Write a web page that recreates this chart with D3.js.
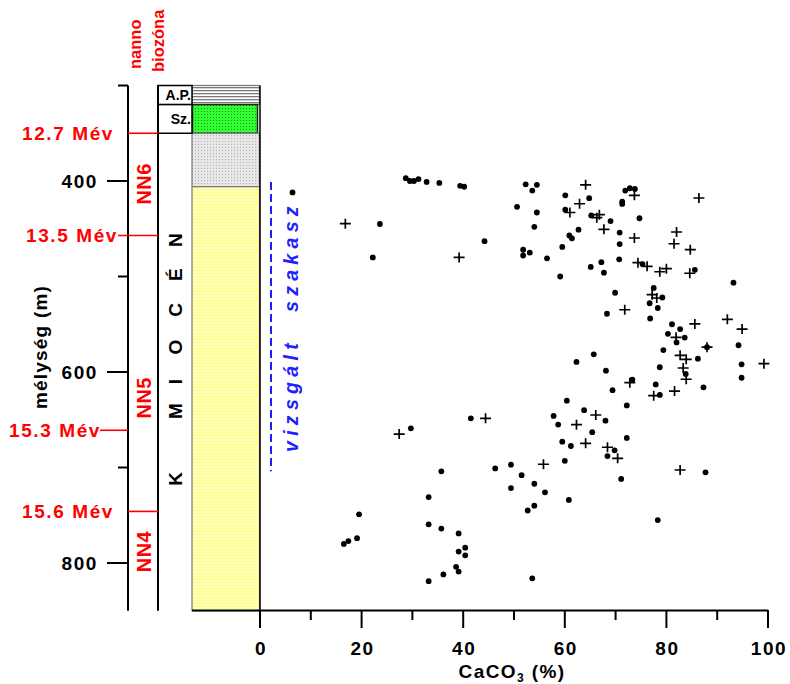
<!DOCTYPE html>
<html><head><meta charset="utf-8">
<script src="https://cdn.jsdelivr.net/npm/d3@7"></script>
<style>body{margin:0;background:#fff}svg{display:block}text{font-family:"Liberation Sans",Arial,sans-serif;font-weight:bold}</style>
</head><body><svg id="c" width="790" height="684"></svg>
<script>
// ---- data ----
const dotCaCO3 = [6.4,28.7,29.5,30.3,31.2,32.8,35.3,39.4,40.2,52.3,54.5,53.6,50.6,60.1,64.8,71.9,72.8,73.8,71.3,71.3,
  23.6,44.2,51.8,51.8,53.1,22.2,54.5,60.1,65.2,69,74.7,54,62.7,60.9,61.4,70.8,70.8,59.5,56.5,67.2,
  65.1,67.7,70.7,75.3,85.6,59.1,93.2,69.9,77.5,79.2,76.7,78.3,68.3,76.8,81.1,82.7,80.3,83.6,82,88,
  94.2,79.4,86.2,65.7,62.3,94.8,78.7,68.1,83.8,94.8,73.3,77.9,87.3,78.7,69.4,60.4,72.2,63.8,68,57.8,
  58.7,65.4,72.2,59.5,61.2,69.8,68.4,60,51.5,54,56.1,60.8,71.1,87.7,41.5,29.7,35.7,46.3,49.4,49.4,
  33.2,52.7,19.5,16.5,17.4,19.1,33.2,35.7,39.1,40.4,39.1,40.4,38.6,39.1,36.1,33.2,54,78.3,53.6];
const dotDepth = [412,397,400,400,398,401,402,405,406,403.5,404,410,427,415,418,410,407.6,408.4,421.7,424,
  445,463,472,478,475,480,433,430,436,442,439,448,451,457,460,454,466,469,481,485,
  490,496,482,487,493,500,506.5,517,512,522,528,533,539,544,550,555,560,564,569,574,
  572,577,586,581.5,589.5,592,595,598.6,602,606,608,613,616,624,619,630,635,640,651,646,
  655,663,669,673,677.5,682,688,693,708,717,726,734,712,705,648.5,659,704,701,697,721.5,
  731,745,749,780,777,774,759.5,764,769,784,788,792,804,809,812,819,740,755,816];
const plusCaCO3 = [16.8,39.2,64.1,62.9,73.7,86.4,61,66.8,66.3,67.7,73.7,82,81.5,84.7,74.4,76.2,78.7,80,84.6,77.2,
  78.1,71.8,85.6,92,94.9,81.9,88,82.7,83.9,99.2,83.3,83.9,72.8,81.6,77.5,66.1,62.3,64.1,68.4,70.4,
  55.8,82.7,44.4,27.4];
const plusDepth = [444.7,480,404,423.8,415,417.8,433,435.3,438.4,450.6,459.7,453.4,465.7,471.9,485.5,489.3,495,491.8,496.6,519,
  522.5,534.8,549.7,544.8,555,563.7,574,582.5,586.7,591.3,595.8,607.6,611.2,620,624.8,645,655.2,674.7,678.8,690.4,
  696.6,702.6,648.5,665];
const xTicks = [0,20,40,60,80,100];
const depthLabelTicks = [400,600,800];
const ageLabels = ['12.7 Mév','13.5 Mév','15.3 Mév','15.6 Mév'];
const ageDepths = [350,457,661,746];
const zoneNames = ['NN6','NN5','NN4'];
const zoneLabelDepths = [403,627,788];
const formationLetters = ['K','M','I','O','C','É','N'];
const formationLetterDepths = [712,641,610,574,535,498,462];
const unitNames = ['A.P.','Sz.','',''];
const unitTops = [300,320,350,406];
const unitBottoms = [320,350,406,850];
const unitPatterns = ['pAP','pGreen','pGray','pYellow'];
const studiedTop = 401, studiedBottom = 704;

// ---- drawing ----
const svg = d3.select('#c');
const y = d3.scaleLinear().domain([300,850]).range([85.5,610.75]);
const x = d3.scaleLinear().domain([0,100]).range([260,768]);

const defs = svg.append('defs');
function pat(id,w,h,bg,draw){const p=defs.append('pattern').attr('id',id).attr('patternUnits','userSpaceOnUse').attr('width',w).attr('height',h);
  p.append('rect').attr('width',w).attr('height',h).attr('fill',bg); draw(p);}
pat('pAP',4,3,'#ffffff',p=>p.append('rect').attr('width',4).attr('height',1.3).attr('fill','#7a7a7a'));
pat('pGreen',3,3,'#33ff33',p=>p.append('rect').attr('width',1).attr('height',1).attr('fill','#0a9a0a'));
pat('pGray',3,3,'#e6e6e6',p=>p.append('rect').attr('width',1).attr('height',1).attr('fill','#b4b4b4'));
pat('pYellow',4,3,'#ffffc4',p=>p.append('rect').attr('width',4).attr('height',1.4).attr('fill','#ffff88'));

const colL=192, colR=259.5, boxL=158, axL=128;
// lithology
unitTops.forEach((t,i)=>{
  const r = svg.append('rect').attr('x',colL).attr('y',y(t)).attr('width',colR-colL).attr('height',y(unitBottoms[i])-y(t))
    .attr('fill','url(#'+unitPatterns[i]+')').attr('stroke','#777').attr('stroke-width',1.2);
  if(i===1) r.attr('x',colL+0.5).attr('width',colR-colL-2.5).attr('stroke','#222').attr('stroke-width',1.5);
});
svg.append('line').attr('x1',colR+0.5).attr('x2',colR+0.5).attr('y1',y(300)).attr('y2',y(850)).attr('stroke','#000').attr('stroke-width',1.5);
// unit name boxes
unitNames.forEach((n,i)=>{ if(!n) return;
  svg.append('rect').attr('x',boxL).attr('y',y(unitTops[i])).attr('width',colL-boxL).attr('height',y(unitBottoms[i])-y(unitTops[i]))
    .attr('fill','#fff').attr('stroke','#000').attr('stroke-width',1.5);
  svg.append('text').attr('x',colL-1).attr('y',(y(unitTops[i])+y(unitBottoms[i]))/2+5).attr('text-anchor','end')
    .attr('font-size',14).text(n);
});
// vertical lines of the strat columns
svg.append('line').attr('x1',boxL).attr('x2',boxL).attr('y1',y(300)).attr('y2',y(850)).attr('stroke','#000').attr('stroke-width',2);
svg.append('line').attr('x1',axL).attr('x2',axL).attr('y1',y(300)).attr('y2',y(850)).attr('stroke','#000').attr('stroke-width',2);
// depth ticks
d3.range(300,801,100).forEach(d=>{
  const major = depthLabelTicks.includes(d);
  svg.append('line').attr('x1',axL).attr('x2',axL-(major?21:10)).attr('y1',y(d)).attr('y2',y(d)).attr('stroke','#000').attr('stroke-width',2);
});
depthLabelTicks.forEach(d=>svg.append('text').attr('x',98).attr('y',y(d)+7).attr('text-anchor','end')
  .attr('font-size',19).attr('letter-spacing',1.6).text(d));
// y axis title
svg.append('text').attr('transform','translate(47,347) rotate(-90)').attr('text-anchor','middle')
  .attr('font-size',19).attr('letter-spacing',1.2).text('mélység (m)');
// age lines & labels
const ageLineX = [[128,158],[118,158],[100,128],[128,158]];
const ageLabelX = [114,118,101,114];
ageDepths.forEach((d,i)=>{
  svg.append('line').attr('x1',ageLineX[i][0]).attr('x2',ageLineX[i][1]).attr('y1',y(d)).attr('y2',y(d)).attr('stroke','#ff0000').attr('stroke-width',1.6);
  svg.append('text').attr('x',ageLabelX[i]).attr('y',y(d)+7).attr('text-anchor','end').attr('fill','#ff0000')
    .attr('font-size',19).attr('letter-spacing',1.6).text(ageLabels[i]);
});
// biozone names
zoneNames.forEach((n,i)=>svg.append('text').attr('transform',`translate(151,${y(zoneLabelDepths[i])}) rotate(-90)`)
  .attr('text-anchor','middle').attr('fill','#ff0000').attr('font-size',20).attr('letter-spacing',0.5).text(n));
svg.append('text').attr('transform','translate(141,69) rotate(-90)').attr('fill','#ff0000').attr('font-size',16.5).text('nanno');
svg.append('text').attr('transform','translate(164,72) rotate(-90)').attr('fill','#ff0000').attr('font-size',16.5).text('biozóna');
// formation letters
formationLetters.forEach((l,i)=>svg.append('text').attr('transform',`translate(182,${y(formationLetterDepths[i])}) rotate(-90)`)
  .attr('text-anchor','middle').attr('font-size',19).text(l));

// studied interval
svg.append('line').attr('x1',271).attr('x2',271).attr('y1',y(studiedTop)).attr('y2',y(studiedBottom))
  .attr('stroke','#1f1fff').attr('stroke-width',2).attr('stroke-dasharray','8,4');
svg.append('text').attr('transform',`translate(298,312) rotate(-90)`).attr('fill','#1f1fff').attr('font-size',19.5)
  .attr('font-style','italic').attr('letter-spacing',5.3).text('szakasz');
svg.append('text').attr('transform',`translate(298,452) rotate(-90)`).attr('fill','#1f1fff').attr('font-size',19.5)
  .attr('font-style','italic').attr('letter-spacing',5.3).text('vizsgált');

// x axis
svg.append('line').attr('x1',colL).attr('x2',x(100)).attr('y1',610.5).attr('y2',610.5).attr('stroke','#000').attr('stroke-width',2);
d3.range(0,101,10).forEach(v=>{
  const major = xTicks.includes(v);
  svg.append('line').attr('x1',x(v)).attr('x2',x(v)).attr('y1',610).attr('y2',610+(major?18:10)).attr('stroke','#000').attr('stroke-width',2);
});
xTicks.forEach(v=>svg.append('text').attr('x',x(v)+1).attr('y',655).attr('text-anchor','middle')
  .attr('font-size',19).attr('letter-spacing',1.6).text(v));
const xt = svg.append('text').attr('x',512).attr('y',678).attr('text-anchor','middle').attr('font-size',19).attr('letter-spacing',1.4);
xt.append('tspan').text('CaCO');
xt.append('tspan').attr('font-size',12).attr('dy',4).text('3');
xt.append('tspan').attr('dy',-4).text(' (%)');

// data points
svg.append('g').selectAll('circle').data(dotCaCO3).join('circle')
  .attr('cx',(v)=>x(v)).attr('cy',(v,i)=>y(dotDepth[i])).attr('r',2.9).attr('fill','#000');
svg.append('g').selectAll('path').data(plusCaCO3).join('path')
  .attr('d',(v,i)=>{const cx=x(v), cy=y(plusDepth[i]); return `M${cx-5.5},${cy}H${cx+5.5}M${cx},${cy-5}V${cy+5}`;})
  .attr('stroke','#000').attr('stroke-width',1.7).attr('fill','none');
</script></body></html>
